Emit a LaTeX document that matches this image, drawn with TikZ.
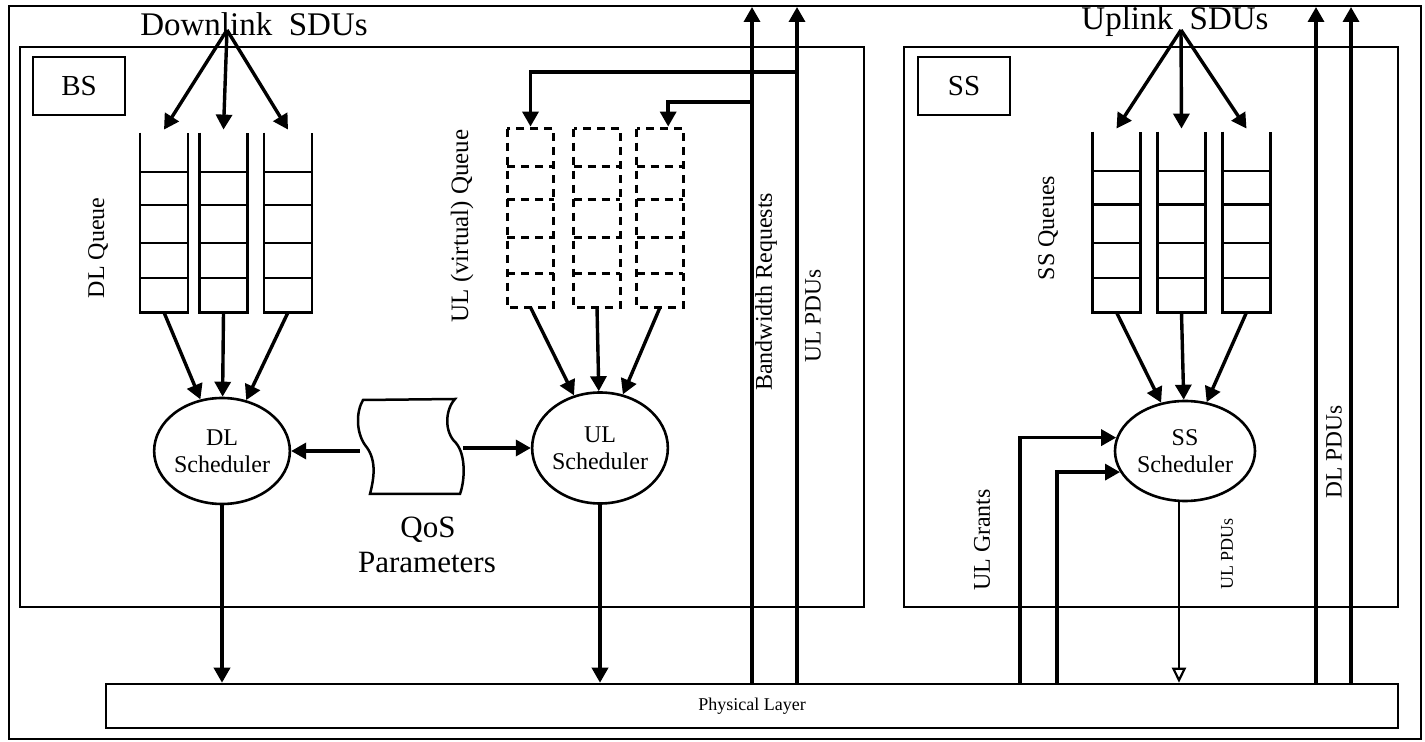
\documentclass[tikz,border=0pt]{standalone}
\usepackage{fontspec}
\setmainfont{Liberation Serif}
\usetikzlibrary{arrows.meta,calc,shapes.geometric}
\tikzset{
  ln/.style={line width=1.25pt},
  arr/.style={line width=1.7pt, -{Triangle[length=7.5pt,width=8pt]}},
  oarr/.style={line width=1.1pt, -{Triangle[open,length=7.5pt,width=7pt]}},
  queue/.style={draw=none, inner sep=0pt, minimum width=23.5pt, minimum height=89.5pt},
  qdash/.style={line width=1.5pt, dash pattern=on 4pt off 3pt},
  sched/.style={ellipse, draw, line width=1.3pt, inner sep=0pt, align=center, font=\fontsize{12}{13.5}\selectfont},
  lbl/.style={font=\fontsize{12}{14}\selectfont, inner sep=0pt},
  vlbl/.style={lbl, rotate=90},
  big/.style={font=\fontsize{15.5}{17}\selectfont, inner sep=0pt},
  tagbox/.style={draw, line width=1.25pt, minimum width=46pt, minimum height=29pt, inner sep=0pt, font=\fontsize{14.5}{16}\selectfont}
}
\newcommand\qcells[1]{%
  \draw[ln] (#1.north west) -- (#1.south west) -- (#1.south east) -- (#1.north east);
  \foreach \f in {0.218,0.402,0.615,0.81}
    \draw[ln] ($(#1.north west)!\f!(#1.south west)$) -- ($(#1.north east)!\f!(#1.south east)$);
}
\newcommand\qdcells[1]{%
  \draw[qdash] (#1.north west) rectangle (#1.south east);
  \foreach \f in {0.213,0.399,0.607,0.809}
    \draw[qdash] ($(#1.north west)!\f!(#1.south west)$) -- ($(#1.north east)!\f!(#1.south east)$);
}
\begin{document}
\begin{tikzpicture}[x=0.5pt,y=-0.5pt]
\useasboundingbox (0,0) rectangle (1425,742);
% frames
\draw[ln] (9,6) rectangle (1421,739);
\draw[ln] (20,47) rectangle (864,607);
\draw[ln] (904,47) rectangle (1398,607);
\node[tagbox] (bs) at (79,86) {BS};
\node[tagbox] (ss) at (964,86) {SS};

% queues
\foreach \n/\x in {dlq1/164, dlq2/223.5, dlq3/288}
  \node[queue] (\n) at (\x,222.5) {};
\foreach \n/\x in {ulq1/530.5, ulq2/597, ulq3/660}
  \node[queue, minimum width=23pt, minimum height=89pt] (\n) at (\x,218) {};
\foreach \n/\x in {ssq1/1116.5, ssq2/1181.5, ssq3/1246.5}
  \node[queue, minimum height=90pt] (\n) at (\x,222) {};
\qcells{dlq1}\qcells{dlq2}\qcells{dlq3}
\qcells{ssq1}\qcells{ssq2}\qcells{ssq3}
\qdcells{ulq1}\qdcells{ulq2}\qdcells{ulq3}

% schedulers
\node[sched, minimum width=65pt, minimum height=53pt] (dls) at (222,451) {DL\\Scheduler};
\node[sched, minimum width=67.5pt, minimum height=55.5pt] (uls) at (600,448) {UL\\Scheduler};
\node[sched, minimum width=70pt, minimum height=50pt] (sss) at (1185,451) {SS\\Scheduler};

% physical layer
\node[draw, line width=1.25pt, minimum width=646pt, minimum height=22pt, inner sep=0pt,
      font=\fontsize{9}{10}\selectfont] (phy) at (752,706) {Physical Layer};

% QoS parameters
\node[draw=none, minimum width=51.5pt, minimum height=47.5pt, inner sep=0pt] (qos) at (411.5,446.5) {};
\draw[ln] (363,400) -- (455,399) .. controls (445,410) and (444,432) .. (456,443)
  .. controls (466,455) and (465,480) .. (460,494) -- (370,494)
  .. controls (375,475) and (376,458) .. (365,445)
  .. controls (356,432) and (356,412) .. cycle;
\node[big] (qost) at (428,530) {QoS};
\node[big] (part) at (427,563) {Parameters};
\draw[arr] (qos.west |- dls.east) -- (dls.east);
\draw[arr] (qos.east |- uls.west) -- (uls.west);

% SDU sources
\node[big, font=\fontsize{16.5}{18}\selectfont] (dlsdu) at (254,24) {Downlink\ \ SDUs};
\node[big, font=\fontsize{16.5}{18}\selectfont] (ulsdu) at (1175,22) {Uplink\ \ SDUs};
\coordinate (dlsrc) at (227,30);
\coordinate (ulsrc) at (1181,30);
\foreach \q in {dlq1,dlq2,dlq3} \draw[arr] (dlsrc) -- ([yshift=1.5pt]\q.north);
\foreach \q in {ssq1,ssq2,ssq3} \draw[arr] (ulsrc) -- ([yshift=1.5pt]\q.north);

% queues to schedulers
\foreach \q in {dlq1,dlq2,dlq3} \draw[arr] (\q.south) -- (dls);
\foreach \q in {ulq1,ulq2,ulq3} \draw[arr] (\q.south) -- (uls);
\foreach \q in {ssq1,ssq2,ssq3} \draw[arr] (\q.south) -- (sss);

% schedulers to physical layer
\draw[arr] (dls.south) -- (dls.south |- phy.north);
\draw[arr] (uls.south) -- (uls.south |- phy.north);
\draw[oarr] ([xshift=-3pt]sss.south) -- ([xshift=-3pt]sss.south |- phy.north);

% bandwidth requests and UL PDUs (BS side)
\coordinate (bwb) at (752,684); \coordinate (bwt) at (752,7);
\coordinate (upb) at (797,684); \coordinate (upt) at (797,7);
\draw[arr] (bwb) -- (bwt);
\draw[arr] (upb) -- (upt);
\coordinate (upbr) at (797,72);
\coordinate (bwbr) at (752,102);
\draw[arr] (upbr) -| ([yshift=1pt]ulq1.north);
\draw[arr] (bwbr) -| ($(ulq3.north)!0.35!(ulq3.north east)+(0,-2)$);

% UL grants
\coordinate (g1) at (1020,684); \coordinate (g2) at (1057,684);
\draw[arr] (g1) |- (sss.169);
\draw[arr] (g2) |- (sss.198);

% DL PDUs
\coordinate (d1b) at (1316,684); \coordinate (d1t) at (1316,7);
\coordinate (d2b) at (1351,684); \coordinate (d2t) at (1351,7);
\draw[arr] (d1b) -- (d1t);
\draw[arr] (d2b) -- (d2t);

% labels
\node[vlbl] (tdlq) at (98,248) {DL Queue};
\node[vlbl, font=\fontsize{12.5}{14}\selectfont] (tulq) at (462,226) {UL (virtual) Queue};
\node[vlbl] (tbw) at (766,292) {Bandwidth Requests};
\node[vlbl, font=\fontsize{11.7}{14}\selectfont] (tulp) at (813,316) {UL PDUs};
\node[vlbl] (tssq) at (1048,228) {SS Queues};
\node[vlbl] (tulg) at (982,540) {UL Grants};
\node[vlbl, font=\fontsize{9}{10}\selectfont] (tulp2) at (1227,554) {UL PDUs};
\node[vlbl, font=\fontsize{11.7}{14}\selectfont] (tdlp) at (1334,452) {DL PDUs};
\end{tikzpicture}
\end{document}
